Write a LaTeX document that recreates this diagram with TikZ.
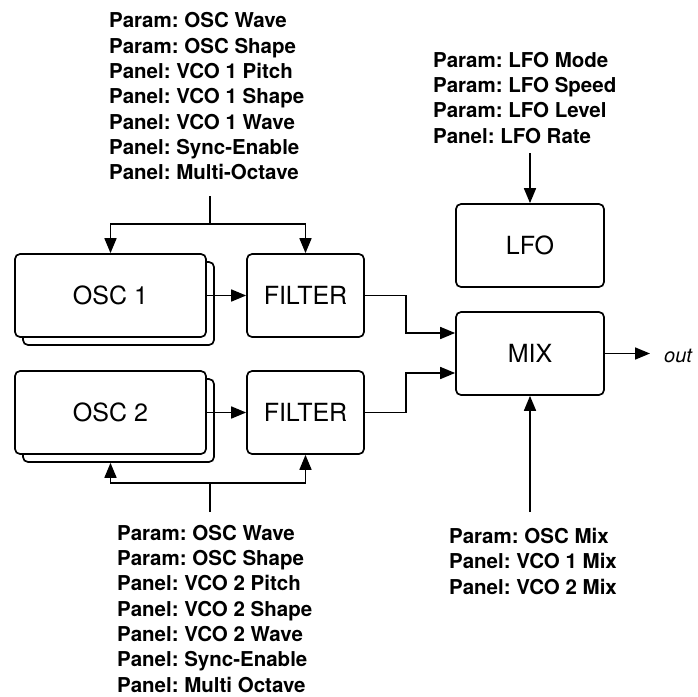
\documentclass[tikz,border=0pt]{standalone}
\usepackage{fontspec}
\setmainfont{TeX Gyre Heros}
\frenchspacing
\usetikzlibrary{arrows.meta}
\begin{document}
\begin{tikzpicture}[x=1pt,y=-1pt,
  box/.style={draw, line width=1.7pt, rounded corners=5pt, inner sep=0pt, fill=white,
    minimum height=83pt, font=\fontsize{25}{30}\selectfont},
  wide/.style={box, minimum width=191pt},
  mid/.style={box, minimum width=117pt},
  big/.style={box, minimum width=148pt},
  lab/.style={align=left, inner sep=0pt, anchor=north west, font=\bfseries\fontsize{20.5}{25.3}\selectfont},
  wire/.style={line width=1.7pt},
  conn/.style={line width=1.7pt, -{Triangle[length=15pt,width=12pt]}}]
\fill[white] (0,0) rectangle (697,697);
\useasboundingbox (0,0) rectangle (697,697);

% boxes
\node[wide] (osc1back) at (118.5,303.5) {};
\node[wide] (osc1) at (110.5,295.5) {OSC 1};
\node[mid] (filter1) at (305.5,295.5) {FILTER};
\node[wide] (osc2back) at (118.5,420.5) {};
\node[wide] (osc2) at (110.5,412.5) {OSC 2};
\node[mid] (filter2) at (305.5,412.5) {FILTER};
\node[big] (lfo) at (530,245.5) {LFO};
\node[big] (mix) at (530,353.5) {MIX};

% labels
\node[lab] (toplab) at (109,12.5) {Param: OSC Wave\\Param: OSC Shape\\Panel: VCO 1 Pitch\\Panel: VCO 1 Shape\\Panel: VCO 1 Wave\\Panel: Sync-Enable\\Panel: Multi-Octave};
\node[lab] (lfolab) at (433,52) {Param: LFO Mode\\Param: LFO Speed\\Param: LFO Level\\Panel: LFO Rate};
\node[lab] (botlab) at (117,525) {Param: OSC Wave\\Param: OSC Shape\\Panel: VCO 2 Pitch\\Panel: VCO 2 Shape\\Panel: VCO 2 Wave\\Panel: Sync-Enable\\Panel: Multi Octave};
\node[lab] (mixlab) at (449,528) {Param: OSC Mix\\Panel: VCO 1 Mix\\Panel: VCO 2 Mix};
\node[anchor=base west, inner sep=0pt, font=\itshape\fontsize{20}{24}\selectfont] (out) at (664,362) {out};

% coordinates
\coordinate (ttop) at (210,196);
\coordinate (tjoin) at (210,224);
\coordinate (bbot) at (210,512);
\coordinate (bjoin) at (210,483);
\coordinate (lfotop) at (530,153);
\coordinate (mixbot) at (530,512);
\coordinate (outc) at (650,353.5);

% connectors
\draw[wire] (ttop) -- (tjoin);
\draw[conn] (tjoin) -| (osc1.north);
\draw[conn] (tjoin) -| (filter1.north);
\draw[conn] (osc1.east) -- (filter1.west);
\draw[conn] (osc2.east) -- (filter2.west);
\draw[conn] (filter1.east) -- ++(41,0) |- ([yshift=20.5pt]mix.west);
\draw[conn] (filter2.east) -- ++(41,0) |- ([yshift=-19.5pt]mix.west);
\draw[conn] (mix.east) -- (outc);
\draw[wire] (bbot) -- (bjoin);
\draw[conn] (bjoin) -| (osc2.south |- osc2back.south);
\draw[conn] (bjoin) -| (filter2.south);
\draw[conn] (lfotop) -- (lfo.north);
\draw[conn] (mixbot) -- (mix.south);
\end{tikzpicture}
\end{document}
